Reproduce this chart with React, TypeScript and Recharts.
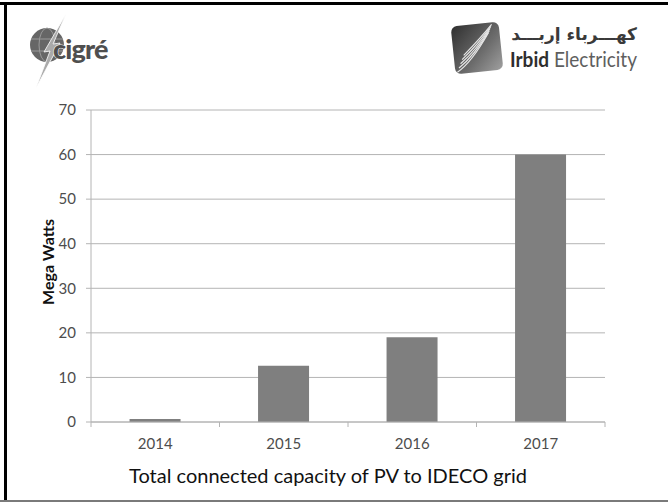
import React from "react";
import { BarChart, Bar, XAxis, YAxis, CartesianGrid } from "recharts";

// PV capacity connected to the IDECO grid, per year (MW)
const years = ["2014", "2015", "2016", "2017"];
const megaWatts = [0.7, 12.6, 19, 60];
const yTicks = [0, 10, 20, 30, 40, 50, 60, 70];

const data = years.map((year, i) => ({ year, mw: megaWatts[i] }));

const W = 668;
const H = 502;
const FONT = "Lato, 'Open Sans', sans-serif";
const GRID = "#b4b4b4";
const TEXT = "#4d4d4d";

const margin = { top: 110, right: 63, bottom: 50, left: 0 };
const yAxisWidth = 91;
const band = (W - margin.left - margin.right - yAxisWidth) / years.length;

// year label plus the small divider tick on the left edge of each category
const YearTick = (props: any) => {
	const { x, y, payload, index } = props;
	const left = x - band / 2;
	return (
		<g>
			<line x1={left} y1={y} x2={left} y2={y + 5} stroke={GRID} />
			{index === years.length - 1 && (
				<line x1={x + band / 2} y1={y} x2={x + band / 2} y2={y + 5} stroke={GRID} />
			)}
			<text x={x} y={y + 27} textAnchor="middle" fontSize={15} fontFamily={FONT} fill={TEXT}>
				{payload.value}
			</text>
		</g>
	);
};

const AxisTitle = (props: any) => {
	const { viewBox } = props;
	const cx = 47;
	const cy = viewBox.y + viewBox.height / 2 - 4;
	return (
		<text
			x={cx}
			y={cy}
			transform={`rotate(-90 ${cx} ${cy})`}
			textAnchor="middle"
			dominantBaseline="central"
			fontSize={16}
			fontWeight={700}
			fontFamily={FONT}
			fill="#111"
		>
			Mega Watts
		</text>
	);
};

const CigreLogo = () => (
	<g>
		<circle cx={47} cy={45} r={17} fill="#666" />
		<ellipse cx={47} cy={45} rx={8} ry={17} fill="none" stroke="#9a9a9a" strokeWidth={1} />
		<line x1={31} y1={39} x2={63} y2={39} stroke="#9a9a9a" />
		<line x1={31} y1={51} x2={63} y2={51} stroke="#9a9a9a" />
		<polygon points="66,14 53,44 60,43 36,88 50,51 44,52" fill="#aaa" stroke="#fff" strokeWidth={0.8} />
		<text x={53} y={59} fontSize={27} fontWeight={900} fontFamily={FONT} fill="#4f4f4f" stroke="#fff" strokeWidth={1} paintOrder="stroke" letterSpacing={-0.8}>
			cigré
		</text>
	</g>
);

const IrbidLogo = () => (
	<g>
		<defs>
			<linearGradient id="irbidIcon" x1="0" y1="0" x2="1" y2="1">
				<stop offset="0" stopColor="#2f2f2f" />
				<stop offset="0.6" stopColor="#6d6d6d" />
				<stop offset="1" stopColor="#a0a0a0" />
			</linearGradient>
		</defs>
		<g transform="rotate(-6 477 48)">
			<rect x={453} y={24} width={48} height={48} rx={6} fill="url(#irbidIcon)" />
			{[0, 1, 2, 3, 4].map((k) => (
				<path
					key={k}
					d={`M ${455 + k * 2} ${70 - k * 4} Q ${470 + k * 3} ${62 - k * 6} ${490 + k} ${34 - k * 2}`}
					fill="none"
					stroke="#e6e6e6"
					strokeWidth={1.2}
				/>
			))}
		</g>
		<text x={637} y={40} textAnchor="end" fontSize={17} fontWeight={700} fontFamily="'DejaVu Sans', sans-serif" fill="#3a3a3a">
			كهـــرباء إربـــد
		</text>
		<text x={510} y={67} fontSize={21} fontFamily={FONT} textLength={127} lengthAdjust="spacingAndGlyphs">
			<tspan fontWeight={700} fill="#2e2e2e">Irbid</tspan>
			<tspan fill="#5e5e5e"> Electricity</tspan>
		</text>
	</g>
);

export default function App() {
	return (
		<div style={{ position: "absolute", left: 0, top: 0, width: W, height: H, background: "#fff", overflow: "hidden" }}>
			<BarChart width={W} height={H} data={data} margin={margin} barCategoryGap="30%">
				<CartesianGrid horizontal vertical={false} stroke={GRID} />
				<XAxis
					dataKey="year"
					height={30}
					tickSize={0}
					tickMargin={0}
					axisLine={{ stroke: GRID }}
					tickLine={false}
					tick={<YearTick />}
				/>
				<YAxis
					width={yAxisWidth}
					domain={[0, 70]}
					ticks={yTicks}
					tickSize={5}
					tickMargin={10}
					axisLine={{ stroke: GRID }}
					tickLine={{ stroke: GRID }}
					tick={{ fontSize: 15, fontFamily: FONT, fill: TEXT }}
					label={<AxisTitle />}
				/>
				<Bar dataKey="mw" fill="#7f7f7f" isAnimationActive={false} />
			</BarChart>
			<div
				style={{
					position: "absolute",
					left: 20,
					width: 616,
					top: 463,
					textAlign: "center",
					fontFamily: FONT,
					fontSize: 20,
					color: "#111",
				}}
			>
				Total connected capacity of PV to IDECO grid
			</div>
			<svg width={W} height={H} style={{ position: "absolute", left: 0, top: 0, pointerEvents: "none" }}>
				<CigreLogo />
				<IrbidLogo />
				<rect x={0} y={2} width={W} height={3} fill="#000" />
				<rect x={4} y={2} width={3} height={H - 2} fill="#000" />
				<rect x={0} y={500} width={W} height={2} fill="#7a7a7a" />
			</svg>
		</div>
	);
}
